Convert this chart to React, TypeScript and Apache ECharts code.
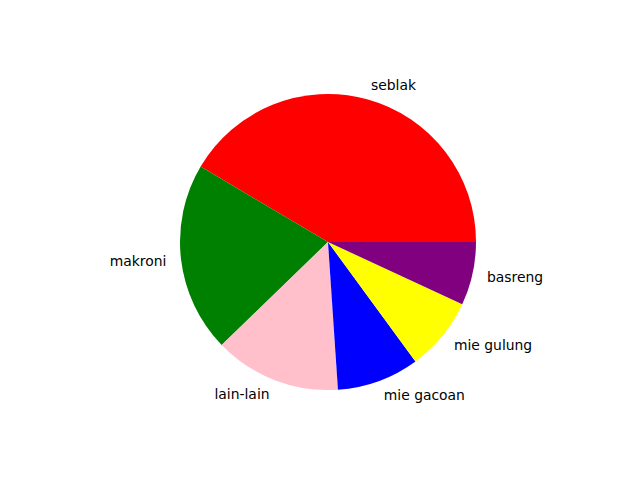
import React, { useEffect, useRef } from "react";
import * as echarts from "echarts";

const categories = ["seblak", "makroni", "lain-lain", "mie gacoan", "mie gulung", "basreng"];
const values = [60, 30, 20, 13, 11.6, 10];
const colors = ["#ff0000", "#008000", "#ffc0cb", "#0000ff", "#ffff00", "#800080"];

export default function App() {
  const ref = useRef<HTMLDivElement>(null);
  useEffect(() => {
    document.body.style.margin = "0";
    const chart = echarts.init(ref.current!, null, { renderer: "svg" });
    const R = 148;
    chart.setOption({
      animation: false,
      backgroundColor: "#ffffff",
      series: [
        {
          type: "pie",
          center: [328, 242],
          radius: [0, R],
          startAngle: 0,
          clockwise: false,
          avoidLabelOverlap: false,
          minAngle: 0,
          data: categories.map((c, i) => ({
            name: c,
            value: values[i],
            itemStyle: { color: colors[i] },
          })),
          itemStyle: { borderWidth: 0 },
          label: {
            show: true,
            position: "outside",
            formatter: "{b}",
            color: "#000000",
            fontFamily: "DejaVu Sans",
            fontSize: 13.9,
            distanceToLabelLine: 0,
            alignTo: "none",
          },
          labelLine: { show: false, length: R * 0.1, length2: 0 },
          emphasis: { disabled: true },
        },
      ],
    });
    return () => chart.dispose();
  }, []);
  return <div ref={ref} style={{ width: 640, height: 480 }} />;
}
